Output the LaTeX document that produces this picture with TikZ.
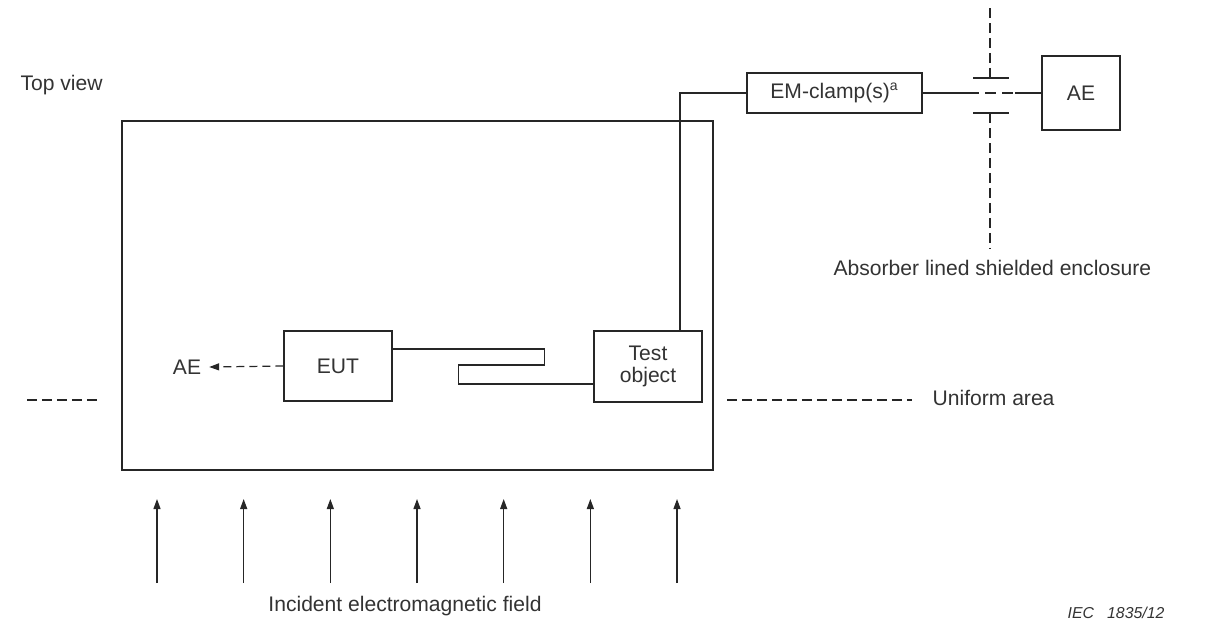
\documentclass[tikz,border=0pt]{standalone}
\usepackage{fontspec}
\setmainfont{Liberation Sans}
\usepackage{tikz}
\usetikzlibrary{arrows.meta, positioning}

\begin{document}
\begin{tikzpicture}[
    x=0.02cm, y=-0.02cm,
    line width=0.7pt, color=black!85,
    font=\fontsize{12}{14}\selectfont,
    box/.style={rectangle, draw, minimum width=2.16cm, minimum height=1.4cm, align=center, text=black!80},
    txt/.style={inner sep=0pt, text=black!80},
    wall/.style={dash pattern=on 0.2cm off 0.1cm},
    marker/.style={dash pattern=on 0.2cm off 0.1cm},
    arrow/.style={-{Triangle[length=2mm, width=1.4mm]}},
]
\useasboundingbox (0,0) rectangle (1220,623);

\node[box, minimum width=11.82cm, minimum height=6.98cm] (room) at (417.5,295.5) {};
\node[box] (eut) at (338,366) {EUT};
\node[box, minimum height=1.42cm] (test) at (648,366.5) {Test\\[-1pt]object};
\node[box, minimum width=3.5cm, minimum height=0.8cm] (clamp) at (834.5,93) {EM-clamp(s)\textsuperscript{a}};
\node[box, minimum width=1.56cm, minimum height=1.48cm] (aeR) at (1081,93) {AE};
\node[txt, inner sep=0.15cm] (aeL) at (187,367) {AE};

\draw[arrow, dash pattern=on 0.16cm off 0.1cm] (eut.west) -- (aeL.east);
\draw ([yshift=0.34cm]eut.east) -- ++(152,0) -- ++(0,16) -- ++(-86,0) |- ([yshift=-0.35cm]test.west);
\draw ([xshift=0.64cm]test.north) |- (clamp.west);

\coordinate (gapL) at (968,93);
\coordinate (gapR) at (1015,93);
\draw (clamp.east) -- (gapL);
\draw[dash pattern=on 0.22cm off 0.12cm] (gapL) -- (gapR);
\draw (gapR) -- (aeR.west);
\draw (973,78) -- (1009,78);
\draw (973,113) -- (1009,113);
\draw[wall] (990,8) -- (990,78);
\draw[wall] (990,113) -- (990,248);

\draw[marker] (27,400) -- (97,400);
\draw[marker] (727,400) -- (912,400);

\node[txt, anchor=west] (top) at (20,85) {Top view};
\node[txt, anchor=west] (encl) at (833,268) {Absorber lined shielded enclosure};
\node[txt, anchor=west] (uniform) at (932,398) {Uniform area};
\node[txt] (field) at (405,606) {Incident electromagnetic field};
\node[txt, font=\fontsize{9}{11}\selectfont\itshape] (iec) at (1116,613) {IEC\ \ \ 1835/12};

\foreach \i in {0,...,6}
    \draw[arrow] (157+86.67*\i,583) -- (157+86.67*\i,499);

\end{tikzpicture}
\end{document}
